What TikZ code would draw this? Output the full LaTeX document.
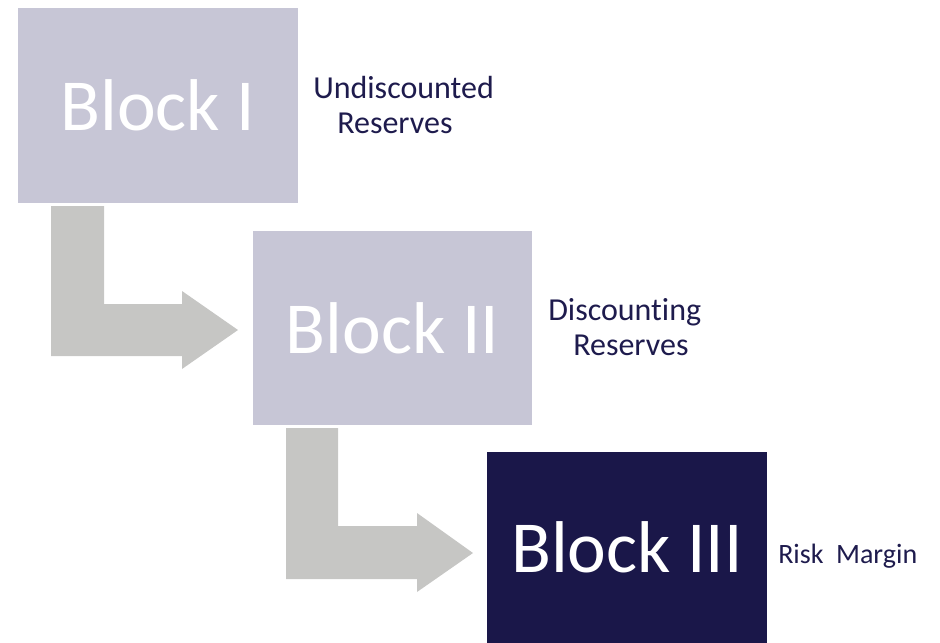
\documentclass[tikz,border=0pt]{standalone}
\usepackage{fontspec}
\setmainfont{Carlito}[Ligatures={TeX,NoCommon}]
\definecolor{lightblock}{HTML}{C7C6D6}
\definecolor{darkblock}{HTML}{1A1749}
\definecolor{arrowgray}{HTML}{C6C6C4}
\definecolor{labelnavy}{HTML}{1E1B4D}
\begin{document}
\begin{tikzpicture}[x=0.75pt,y=-0.75pt,
  blockbox/.style={rectangle,inner sep=0pt,draw=none,text=white,
    font=\fontsize{55}{60}\selectfont},
  lightbox/.style={blockbox,fill=lightblock},
  darkbox/.style={blockbox,fill=darkblock},
  blockarrow/.style={fill=arrowgray,draw=none},
  sidelabel/.style={inner sep=0pt,text=labelnavy,align=left,anchor=west,
    font=\fontsize{24}{26.25}\selectfont}]
\useasboundingbox (0,0) rectangle (940,643);
% bent block arrows
\path[blockarrow] (51,206) -- (104,206) -- (104,304) -- (182,304) -- (182,291)
  -- (238,330) -- (182,369) -- (182,356) -- (51,356) -- cycle;
\path[blockarrow] (286,428) -- (338,428) -- (338,526) -- (417,526) -- (417,513)
  -- (473,553) -- (417,592) -- (417,579) -- (286,579) -- cycle;
% blocks
\node[lightbox,minimum width=210pt,minimum height=146.25pt] (b1) at (158,105.5) {Block I};
\node[lightbox,minimum width=209.25pt,minimum height=145.5pt] (b2) at (392.5,328) {Block II};
\node[darkbox,minimum width=210pt,minimum height=143.25pt] (b3) at (627,547.5) {Block III};
% labels
\node[sidelabel] (l1) at (313,105.5) {Undiscounted\\\hspace*{18pt}Reserves};
\node[sidelabel] (l2) at (548,327.5) {Discounting\\\hspace*{18.75pt}Reserves};
\node[sidelabel,anchor=base west,font=\fontsize{21}{26}\selectfont] (l3) at (778,563) {Risk\hspace{0.45em}Margin};
\end{tikzpicture}
\end{document}
